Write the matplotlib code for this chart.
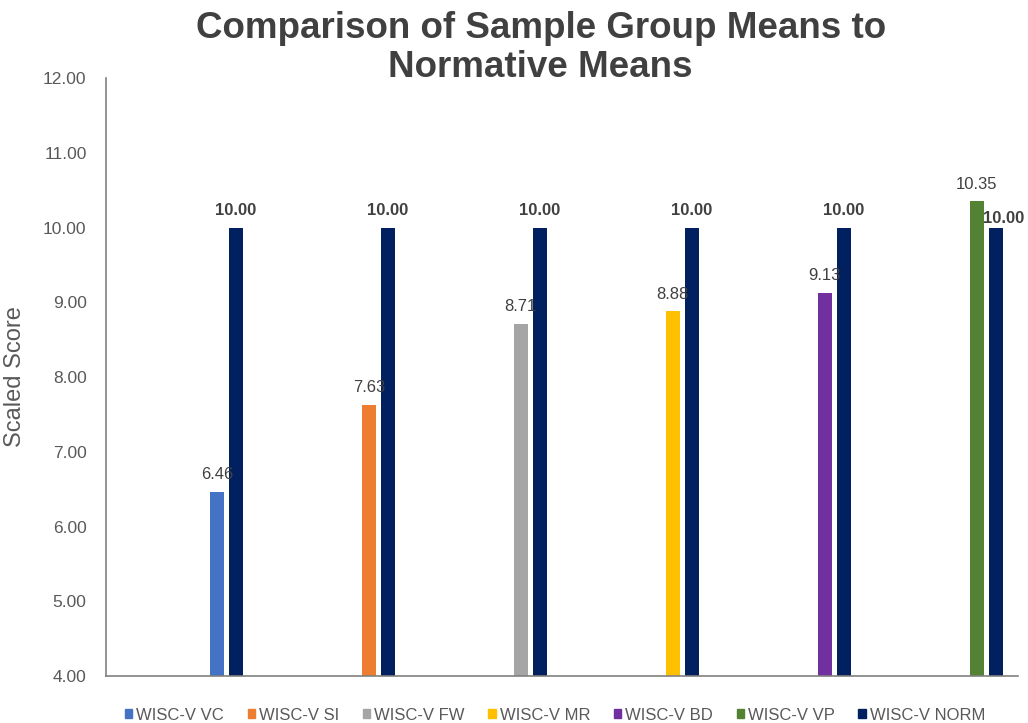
import matplotlib.pyplot as plt
from matplotlib.patches import Patch
import numpy as np

plt.rcParams['font.family'] = ['Liberation Sans', 'DejaVu Sans']

# data
series_names = ['WISC-V VC', 'WISC-V SI', 'WISC-V FW', 'WISC-V MR',
                'WISC-V BD', 'WISC-V VP', 'WISC-V NORM']
sample_means = [6.46, 7.63, 8.71, 8.88, 9.13, 10.35]
norm_means = [10.00, 10.00, 10.00, 10.00, 10.00, 10.00]
colors = ['#4472C4', '#ED7D31', '#A5A5A5', '#FFC000', '#7030A0', '#548235', '#002060']

fig = plt.figure(figsize=(10.28, 7.23), dpi=100)
ax = fig.add_axes([0.1031, 0.065, 0.887, 0.827])

x = np.arange(len(sample_means))
w = 0.092
ax.bar(x + 0.23, sample_means, width=w, color=colors[:6])
ax.bar(x + 0.355, norm_means, width=w, color=colors[6])

txt_col = '#595959'
lbl_col = '#404040'
for i, v in enumerate(sample_means):
    ax.annotate(f'{v:.2f}', (x[i] + 0.23, v), xytext=(0, 7), textcoords='offset points',
                ha='center', va='bottom', fontsize=12, color=lbl_col)
for i, v in enumerate(norm_means):
    off = (6, 1) if i == 5 else (0, 7)
    ax.annotate(f'{v:.2f}', (x[i] + 0.355, v), xytext=off, textcoords='offset points',
                ha='center', va='bottom', fontsize=12, color=lbl_col, fontweight='bold')

ax.set_ylim(4, 12)
ax.set_xlim(-0.5, 5.5)
ticks = np.arange(4, 12.01, 1)
ax.set_yticks(ticks)
ax.set_yticklabels([f'{t:.2f}' for t in ticks])
ax.tick_params(axis='y', length=0, labelsize=12.5, labelcolor=txt_col, pad=14)
ax.set_xticks([])
for s in ['top', 'right']:
    ax.spines[s].set_visible(False)
for s in ['left', 'bottom']:
    ax.spines[s].set_color('#808080')
    ax.spines[s].set_linewidth(1.2)
ax.set_ylabel('Scaled Score', fontsize=17, color=txt_col, labelpad=12)

fig.text(0.526, 0.934, 'Comparison of Sample Group Means to\nNormative Means',
         ha='center', va='center', fontsize=26.5, fontweight='bold',
         color='#404040', linespacing=1.15)

handles = [Patch(color=c, label=n) for c, n in zip(colors, series_names)]
fig.legend(handles=handles, loc='center', bbox_to_anchor=(0.54, 0.011), ncol=7,
           frameon=False, fontsize=12, labelcolor=txt_col, handlelength=0.45,
           handleheight=0.45, handletextpad=0.25, columnspacing=1.4,
           borderpad=0, borderaxespad=0)

fig.savefig('out.png', dpi=100)
